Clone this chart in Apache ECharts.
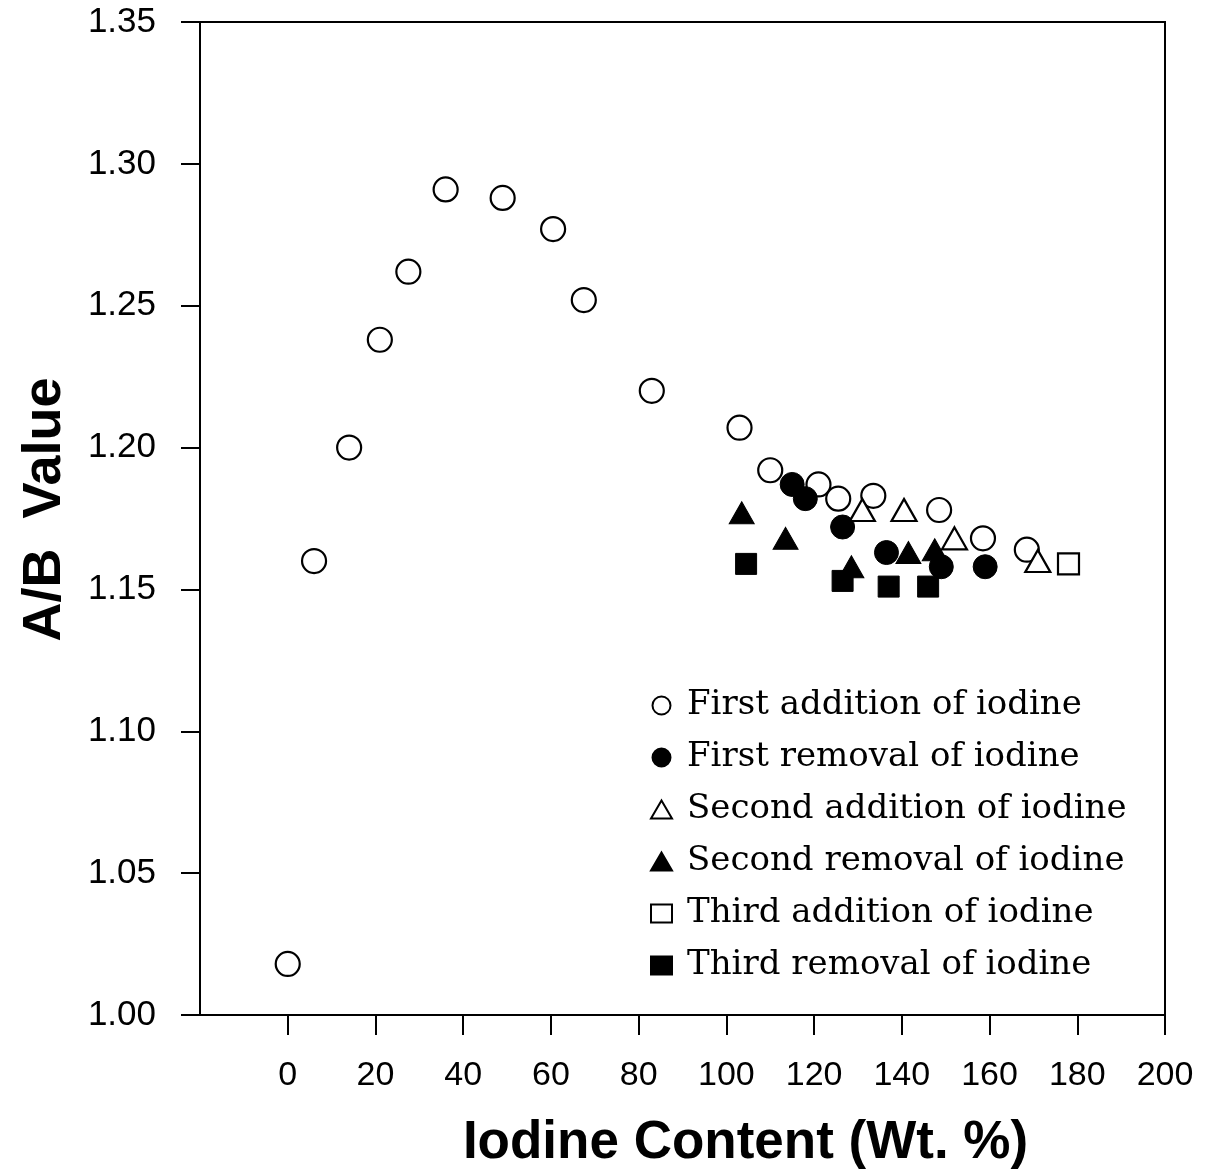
<!DOCTYPE html>
<html>
<head>
<meta charset="utf-8">
<script src="https://cdn.jsdelivr.net/npm/echarts@6/dist/echarts.min.js"></script>
<style>
html,body{margin:0;padding:0;background:#fff;}
#chart{width:1212px;height:1170px;}
</style>
</head>
<body>
<div id="chart"></div>
<script>
// ---- data ----
var seriesNames = [
  'First addition of iodine',
  'First removal of iodine',
  'Second addition of iodine',
  'Second removal of iodine',
  'Third addition of iodine',
  'Third removal of iodine'
];
var firstAdditionX = [0, 6, 14, 21, 27.5, 36, 49, 60.5, 67.5, 83, 103, 110, 121, 125.5, 133.5, 148.5, 158.5, 168.5];
var firstAdditionY = [1.018, 1.160, 1.200, 1.238, 1.262, 1.291, 1.288, 1.277, 1.252, 1.220, 1.207, 1.192, 1.187, 1.182, 1.183, 1.178, 1.168, 1.164];
var firstRemovalX = [115, 118, 126.5, 136.5, 149, 159];
var firstRemovalY = [1.187, 1.182, 1.172, 1.163, 1.158, 1.158];
var secondAdditionX = [131, 140.5, 152, 171];
var secondAdditionY = [1.178, 1.178, 1.168, 1.160];
var secondRemovalX = [103.5, 113.5, 128.5, 141.5, 147.5];
var secondRemovalY = [1.177, 1.168, 1.158, 1.163, 1.164];
var thirdAdditionX = [178];
var thirdAdditionY = [1.159];
var thirdRemovalX = [104.5, 126.5, 137, 146];
var thirdRemovalY = [1.159, 1.153, 1.151, 1.151];
var xTickValues = [0, 20, 40, 60, 80, 100, 120, 140, 160, 180, 200];
var yTickLabels = ['1.00', '1.05', '1.10', '1.15', '1.20', '1.25', '1.30', '1.35'];

function pairs(xs, ys) {
  return xs.map(function (x, i) { return [x, ys[i]]; });
}

var chart = echarts.init(document.getElementById('chart'), null, {renderer: 'canvas'});

var openStyle = {color: '#fff', borderColor: '#000', borderWidth: 2.2, opacity: 1};
var fillStyle = {color: '#000', borderColor: '#000', borderWidth: 1, opacity: 1};

var option = {
  animation: false,
  backgroundColor: '#fff',
  grid: {
    left: 200, right: 47, top: 22, bottom: 155,
    outerBoundsMode: 'none',
    containLabel: false,
    show: true, borderColor: '#000', borderWidth: 2, backgroundColor: 'transparent'
  },
  legend: {
    orient: 'vertical',
    left: 645, top: 682,
    itemWidth: 21, itemHeight: 18,
    itemGap: 15,
    textStyle: {fontFamily: 'DejaVu Serif', fontSize: 34, color: '#000', lineHeight: 37, padding: [0, 0, 0, 10]},
    data: seriesNames
  },
  xAxis: {
    type: 'value',
    min: -20, max: 200, interval: 20,
    name: 'Iodine Content (Wt. %)',
    nameLocation: 'middle',
    nameGap: 102,
    nameTextStyle: {fontFamily: 'Liberation Sans', fontWeight: 'bold', fontSize: 53, color: '#000', padding: [0, 0, 0, 126]},
    axisLine: {show: true, onZero: false, lineStyle: {color: '#000', width: 2}},
    axisTick: {show: true, inside: false, length: 20, lineStyle: {color: '#000', width: 2}, customValues: xTickValues},
    axisLabel: {fontFamily: 'Liberation Sans', fontSize: 34, color: '#000', margin: 44, customValues: xTickValues},
    splitLine: {show: false}
  },
  yAxis: {
    type: 'value',
    min: 1.0, max: 1.35, interval: 0.05,
    name: 'A/B  Value',
    nameLocation: 'middle',
    nameGap: 128,
    nameRotate: 90,
    nameTextStyle: {fontFamily: 'Liberation Sans', fontWeight: 'bold', fontSize: 54, color: '#000', padding: [0, 0, 0, 18]},
    axisLine: {show: true, onZero: false, lineStyle: {color: '#000', width: 2}},
    axisTick: {show: true, inside: false, length: 19, lineStyle: {color: '#000', width: 2}},
    axisLabel: {
      fontFamily: 'Liberation Sans', fontSize: 35, color: '#000', margin: 44,
      formatter: function (v) {
        var idx = Math.round((v - 1.0) / 0.05);
        return yTickLabels[idx] !== undefined ? yTickLabels[idx] : v.toFixed(2);
      }
    },
    splitLine: {show: false}
  },
  series: [
    {name: seriesNames[0], type: 'scatter', symbol: 'circle', symbolSize: 24, itemStyle: openStyle, data: pairs(firstAdditionX, firstAdditionY), z: 2},
    {name: seriesNames[1], type: 'scatter', symbol: 'circle', symbolSize: 24, itemStyle: fillStyle, data: pairs(firstRemovalX, firstRemovalY), z: 3},
    {name: seriesNames[2], type: 'scatter', symbol: 'triangle', symbolSize: [25, 22], itemStyle: openStyle, data: pairs(secondAdditionX, secondAdditionY), z: 4},
    {name: seriesNames[3], type: 'scatter', symbol: 'triangle', symbolSize: [25, 22], itemStyle: fillStyle, data: pairs(secondRemovalX, secondRemovalY), z: 5},
    {name: seriesNames[4], type: 'scatter', symbol: 'rect', symbolSize: 21, itemStyle: openStyle, data: pairs(thirdAdditionX, thirdAdditionY), z: 4},
    {name: seriesNames[5], type: 'scatter', symbol: 'rect', symbolSize: 21, itemStyle: fillStyle, data: pairs(thirdRemovalX, thirdRemovalY), z: 6}
  ]
};
chart.setOption(option);
</script>
</body>
</html>
